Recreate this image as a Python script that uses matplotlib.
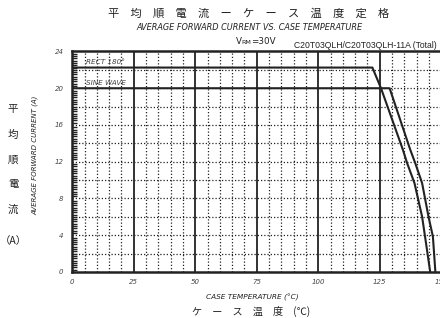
import matplotlib
matplotlib.use("Agg")
import matplotlib.pyplot as plt
import numpy as np

# data
rect_temp = [0, 122.0, 125.5, 134.4, 136.1, 139.1, 142.2, 144.2, 145.5]
rect_curr = [22.25, 22.25, 20.0, 13.3, 11.86, 9.68, 6.03, 2.4, 0.0]
sine_temp = [0, 129.0, 137.4, 139.4, 142.2, 144.8, 146.6, 147.6]
sine_curr = [20.0, 20.0, 13.3, 11.86, 9.68, 6.03, 3.85, 0.0]

x_ticks = [0, 25, 50, 75, 100, 125, 150]
y_ticks = [0, 4, 8, 12, 16, 20, 24]

narrow = ['Liberation Sans Narrow', 'DejaVu Sans']
cjk = ['Noto Sans CJK JP', 'DejaVu Sans']
dark = '#222222'
grey = '#444444'

fig = plt.figure(figsize=(4.4, 3.18), dpi=100)
ax = fig.add_axes([0.1643, 0.1447, 0.8386, 0.6934])
ax.set_xlim(0, 150)
ax.set_ylim(0, 24)

# grid: dotted every 5 / 2, solid every 25
for t in np.arange(5, 150, 5):
    if t % 25 == 0:
        ax.axvline(t, color=dark, lw=1.3, zorder=1)
    else:
        ax.axvline(t, color=dark, lw=0.9, ls=(0, (1, 1.6)), zorder=1)
for c in np.arange(2, 24, 2):
    ax.axhline(c, color=dark, lw=0.9, ls=(0, (1, 1.6)), zorder=1)

ax.plot(rect_temp, rect_curr, color=dark, lw=1.5, zorder=3)
ax.plot(sine_temp, sine_curr, color=dark, lw=1.5, zorder=3)

ax.text(5.6, 22.9, 'RECT 180°', fontsize=5.2, style='italic', family=narrow,
        color=grey, va='center', ha='left', zorder=4)
ax.text(5.6, 20.6, 'SINE WAVE', fontsize=5.2, style='italic', family=narrow,
        color=grey, va='center', ha='left', zorder=4)

for s in ax.spines.values():
    s.set_linewidth(1.8)
    s.set_color(dark)

ax.set_xticks(x_ticks)
ax.set_yticks(y_ticks)
ax.set_xticklabels([str(v) for v in x_ticks], fontsize=5, style='italic',
                   family=narrow, color=grey)
ax.set_yticklabels([str(v) for v in y_ticks], fontsize=5, style='italic',
                   family=narrow, color=grey)
ax.tick_params(axis='x', length=0, pad=5)
ax.tick_params(axis='y', which='major', length=0, pad=6.3)
ax.set_yticks(np.arange(0.25, 24, 0.25), minor=True)
ax.tick_params(axis='y', which='minor', direction='in', length=3.6, width=1.0,
               color=dark)

# titles and labels
fig.text(0.566, 0.959, '平　均　順　電　流　ー　ケ　ー　ス　温　度　定　格',
         family=cjk, fontsize=8.1, ha='center', va='center', color=dark)
fig.text(249 / 440, 0.915, 'AVERAGE FORWARD CURRENT VS. CASE TEMPERATURE',
         family=narrow, style='italic', fontsize=5.9, ha='center', va='center',
         color=dark)
fig.text(0.537, 0.862, 'V', family=narrow, fontsize=6.3, ha='left', va='baseline',
         color=dark)
fig.text(0.549, 0.862, 'RM', family=narrow, fontsize=4.6, ha='left', va='baseline',
         color=dark)
fig.text(0.570, 0.862, '=30V', family=narrow, fontsize=6.3, ha='left', va='baseline',
         color=dark)
fig.text(0.993, 0.858, 'C20T03QLH/C20T03QLH-11A (Total)', family=['Liberation Sans'],
         fontsize=6.2, ha='right', va='center', color=dark)

fig.text(252 / 440, 1 - 297 / 318, 'CASE TEMPERATURE (°C)', family=narrow,
         style='italic', fontsize=5.3, ha='center', va='center', color=dark)
fig.text(251 / 440, 1 - 311 / 318, 'ケ　ー　ス　温　度　(℃)', family=cjk,
         fontsize=7.3, ha='center', va='center', color=dark)

fig.text(35 / 440, 1 - 155 / 318, 'AVERAGE FORWARD CURRENT (A)', family=narrow,
         style='italic', fontsize=5.0, rotation=90, ha='center', va='center',
         color=dark)
for ch, yp in zip(['平', '均', '順', '電', '流', '（A）'], [109, 135, 160, 184, 210, 241]):
    fig.text(13 / 440, 1 - yp / 318, ch, family=cjk, fontsize=7.5,
             ha='center', va='center', color=dark)

fig.savefig('out.png', dpi=100)
